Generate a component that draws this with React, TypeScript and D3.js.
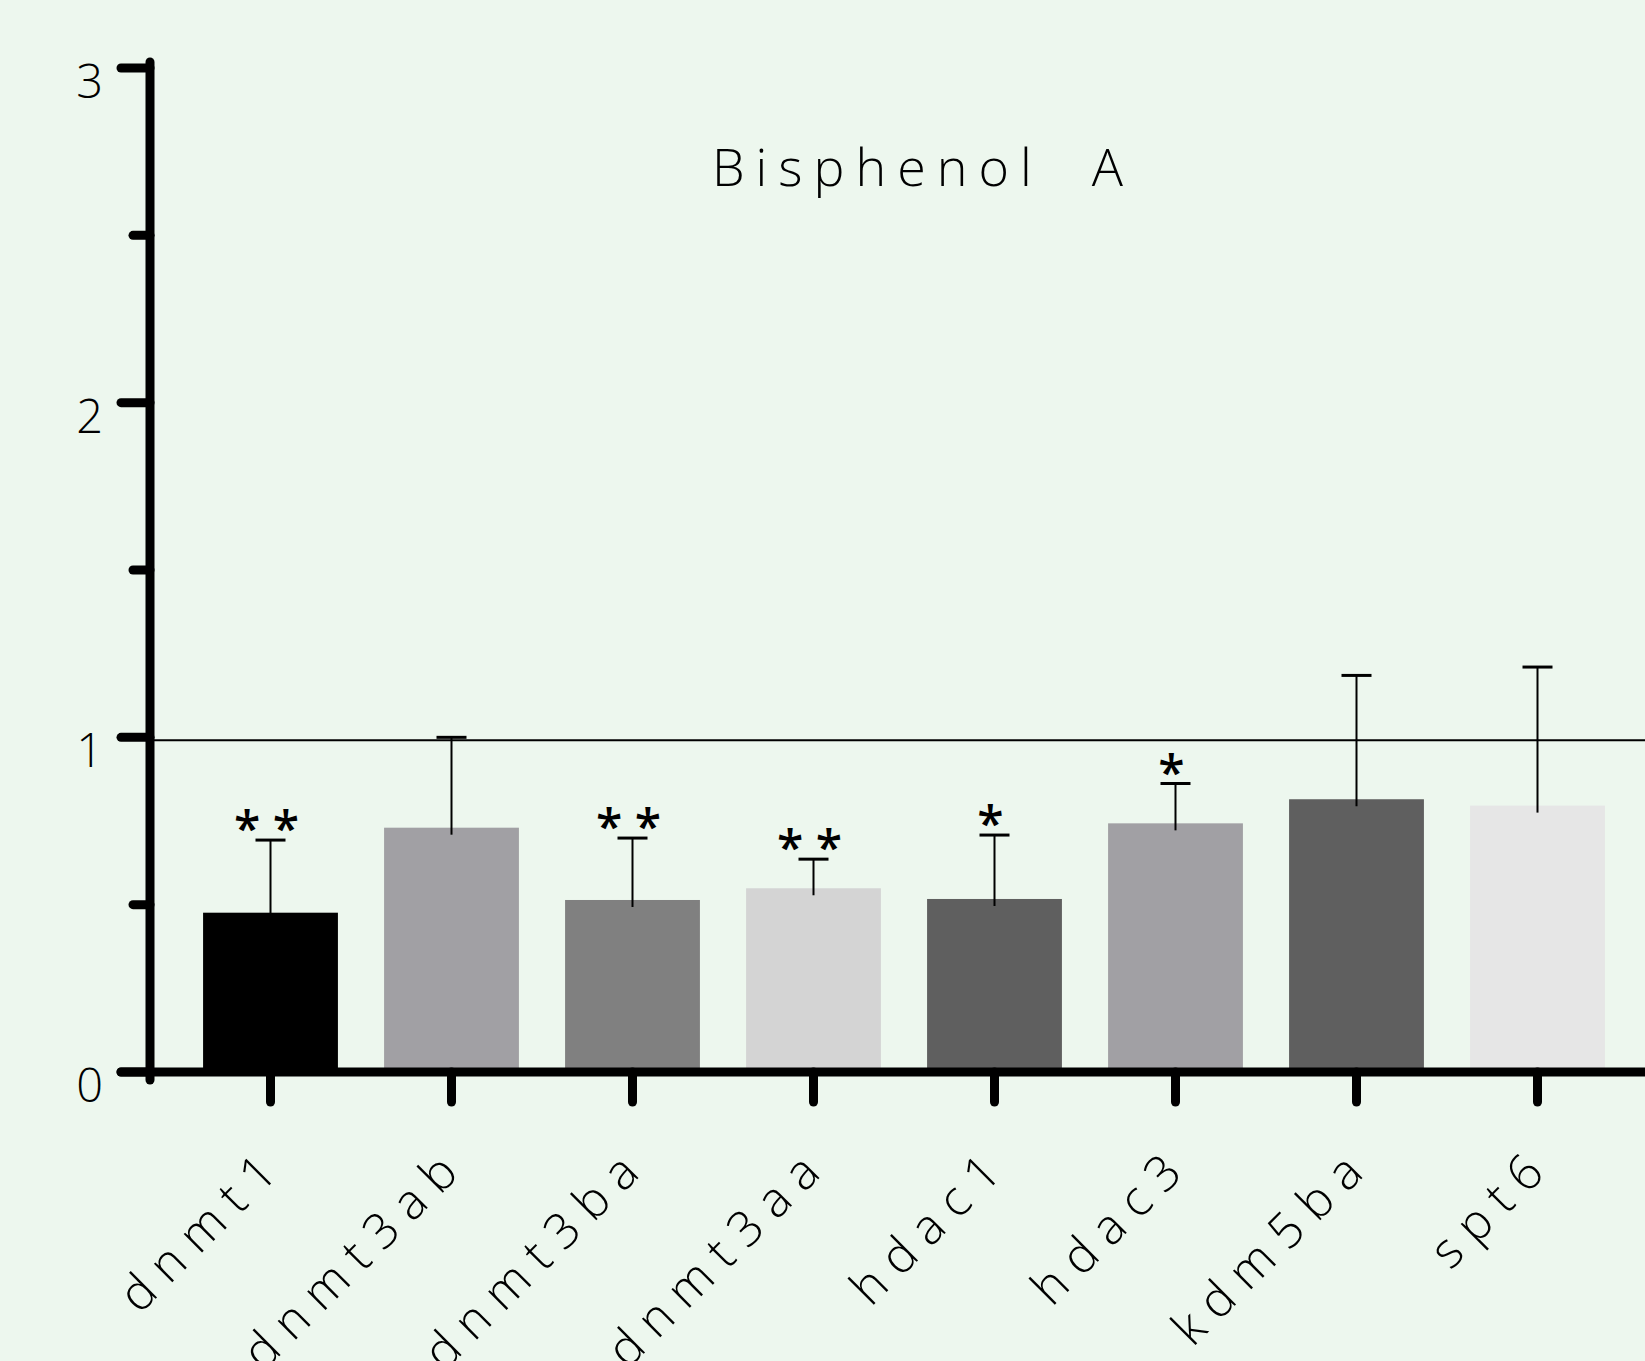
import React, { useEffect, useRef } from 'react';
import * as d3 from 'd3';

const genes = ['dnmt1', 'dnmt3ab', 'dnmt3ba', 'dnmt3aa', 'hdac1', 'hdac3', 'kdm5ba', 'spt6'];
const means = [0.476, 0.730, 0.514, 0.549, 0.517, 0.743, 0.815, 0.796];
const errors = [0.217, 0.270, 0.185, 0.087, 0.191, 0.119, 0.370, 0.414];
const stars = ['* *', '', '* *', '* *', '*', '*', '', ''];
const barColors = ['#000000', '#a1a0a4', '#808080', '#d4d4d4', '#5f5f5f', '#a1a0a4', '#5f5f5f', '#e6e6e6'];
const majorTicks = [0, 1, 2, 3];
const minorTicks = [0.5, 1.5, 2.5];

const W = 1645;
const H = 1361;
const FONT = "'Open Sans', 'Noto Sans', sans-serif";

export default function App() {
  const ref = useRef<SVGSVGElement>(null);

  useEffect(() => {
    const svg = d3.select(ref.current);
    svg.selectAll('*').remove();

    const axisX = 150;
    const y = d3.scaleLinear().domain([0, 3]).range([1072, 68]);
    const x = d3.scaleBand().domain(genes).range([180, 1628]).paddingInner(0.255).paddingOuter(0.1275);
    const cx = (g: string) => (x(g) as number) + x.bandwidth() / 2;

    svg.append('rect').attr('width', W).attr('height', H).attr('fill', '#edf7ee');

    // bars
    svg.selectAll('rect.bar')
      .data(genes)
      .enter()
      .append('rect')
      .attr('class', 'bar')
      .attr('x', d => x(d) as number)
      .attr('y', (d, i) => y(means[i]))
      .attr('width', x.bandwidth())
      .attr('height', (d, i) => y(0) - y(means[i]))
      .attr('fill', (d, i) => barColors[i]);

    // reference line at 1
    svg.append('line')
      .attr('x1', axisX).attr('x2', W)
      .attr('y1', y(1) + 3).attr('y2', y(1) + 3)
      .attr('stroke', '#000').attr('stroke-width', 2);

    // error bars
    const eb = svg.selectAll('g.err').data(genes).enter().append('g').attr('class', 'err');
    eb.append('line')
      .attr('x1', d => cx(d)).attr('x2', d => cx(d))
      .attr('y1', (d, i) => y(means[i]) + 7)
      .attr('y2', (d, i) => y(means[i] + errors[i]))
      .attr('stroke', '#000').attr('stroke-width', 2);
    eb.append('line')
      .attr('x1', d => cx(d) - 15).attr('x2', d => cx(d) + 15)
      .attr('y1', (d, i) => y(means[i] + errors[i]))
      .attr('y2', (d, i) => y(means[i] + errors[i]))
      .attr('stroke', '#000').attr('stroke-width', 3);

    // significance stars
    svg.selectAll('text.star')
      .data(genes)
      .enter()
      .append('text')
      .attr('class', 'star')
      .attr('x', d => cx(d) - 4)
      .attr('y', (d, i) => y(means[i] + errors[i]) + 6)
      .attr('text-anchor', 'middle')
      .attr('font-family', FONT)
      .attr('font-weight', 600)
      .attr('font-size', 48)
      .style('white-space', 'pre')
      .text((d, i) => stars[i]);

    // y axis
    svg.append('line')
      .attr('x1', axisX).attr('x2', axisX)
      .attr('y1', 62).attr('y2', y(0) + 8)
      .attr('stroke', '#000').attr('stroke-width', 9).attr('stroke-linecap', 'round');
    svg.selectAll('line.major')
      .data(majorTicks).enter().append('line')
      .attr('x1', 121).attr('x2', axisX)
      .attr('y1', d => y(d)).attr('y2', d => y(d))
      .attr('stroke', '#000').attr('stroke-width', 9).attr('stroke-linecap', 'round');
    svg.selectAll('line.minor')
      .data(minorTicks).enter().append('line')
      .attr('x1', 133).attr('x2', axisX)
      .attr('y1', d => y(d)).attr('y2', d => y(d))
      .attr('stroke', '#000').attr('stroke-width', 9).attr('stroke-linecap', 'round');
    svg.selectAll('text.ylab')
      .data(majorTicks).enter().append('text')
      .attr('x', 103)
      .attr('y', d => y(d) + 30)
      .attr('text-anchor', 'end')
      .attr('font-family', FONT)
      .attr('font-weight', 300)
      .attr('font-size', 47)
      .text(d => d);

    // x axis
    svg.append('line')
      .attr('x1', 121).attr('x2', W)
      .attr('y1', y(0)).attr('y2', y(0))
      .attr('stroke', '#000').attr('stroke-width', 9).attr('stroke-linecap', 'round');
    svg.selectAll('line.xtick')
      .data(genes).enter().append('line')
      .attr('x1', d => cx(d)).attr('x2', d => cx(d))
      .attr('y1', y(0)).attr('y2', y(0) + 30)
      .attr('stroke', '#000').attr('stroke-width', 9).attr('stroke-linecap', 'round');
    svg.selectAll('text.xlab')
      .data(genes).enter().append('text')
      .attr('transform', d => `translate(${cx(d) + 18},${y(0) + 94}) rotate(-45)`)
      .attr('text-anchor', 'end')
      .attr('font-family', FONT)
      .attr('font-weight', 300)
      .attr('font-size', 49)
      .attr('letter-spacing', 13)
      .text(d => d);

    // title
    svg.append('text')
      .attr('x', 923)
      .attr('y', 186)
      .attr('text-anchor', 'middle')
      .attr('font-family', FONT)
      .attr('font-weight', 300)
      .attr('font-size', 52)
      .attr('letter-spacing', 11)
      .style('white-space', 'pre')
      .text('Bisphenol  A');
  }, []);

  return (
    <svg ref={ref} width={W} height={H} style={{ position: 'absolute', left: 0, top: 0 }} />
  );
}
